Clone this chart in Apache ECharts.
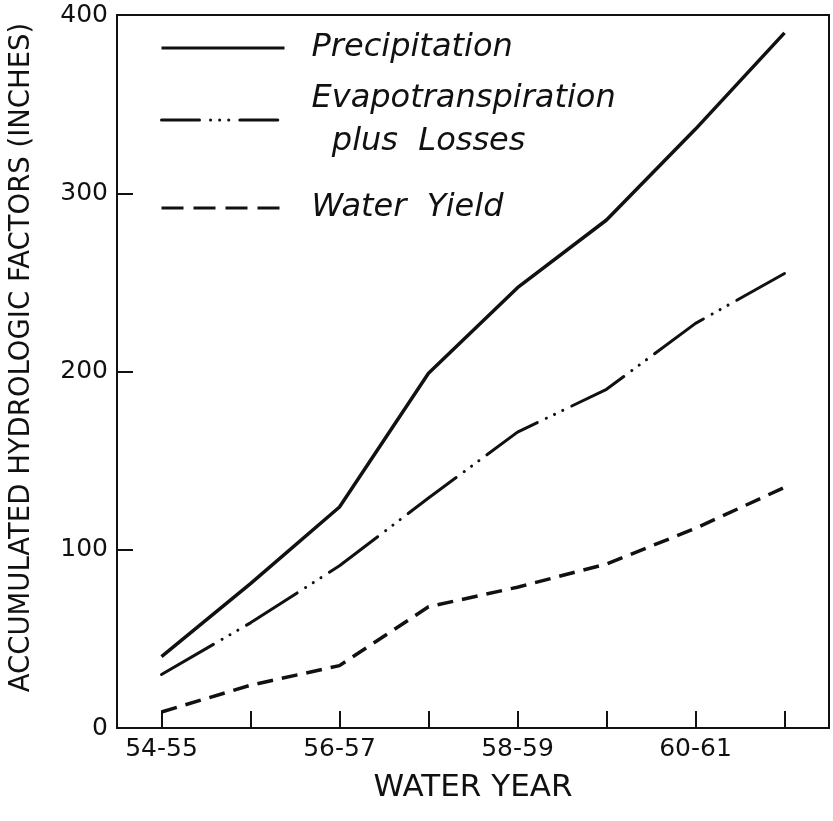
<!DOCTYPE html>
<html>
<head>
<meta charset="utf-8">
<script src="https://cdn.jsdelivr.net/npm/echarts@6/dist/echarts.min.js"></script>
<style>
  html, body { margin: 0; padding: 0; background: #fff; }
  #main { width: 833px; height: 821px; }
</style>
</head>
<body>
<div id="main"></div>
<script>
// water years on the x axis
var years = ['54-55', '55-56', '56-57', '57-58', '58-59', '59-60', '60-61', '61-62']
// accumulated values, inches
var precipitation = [40, 81, 124, 199, 247, 285, 336, 390]
var evapoLosses = [30, 59, 91, 129, 166, 190, 227, 255]
var waterYield = [9, 24, 35, 68, 79, 92, 112, 135]

var ink = '#111'
var font = 'DejaVu Sans'

var myChart = echarts.init(document.getElementById('main'))

function legendAt (name, top, lineType, lineHeight, formatter) {
  return {
    data: [name],
    left: 160,
    top: top,
    padding: 0,
    orient: 'vertical',
    selectedMode: false,
    itemWidth: 123,
    itemHeight: 14,
    itemGap: 30,
    // hide the symbol dot, keep only the line sample
    itemStyle: { color: 'rgba(0,0,0,0)', borderColor: 'rgba(0,0,0,0)', borderWidth: 0 },
    lineStyle: { type: lineType, width: 3, color: ink },
    formatter: formatter,
    textStyle: {
      fontFamily: font,
      fontStyle: 'italic',
      fontSize: 32,
      lineHeight: lineHeight,
      color: ink,
      padding: [0, 0, 0, 22]
    }
  }
}

var option = {
  backgroundColor: '#fff',
  animation: false,
  grid: {
    left: 117,
    right: 4,
    top: 15,
    bottom: 93,
    outerBoundsMode: 'none',
    show: true,
    borderColor: ink,
    borderWidth: 2
  },
  legend: [
    legendAt('Precipitation', 30, 'solid', 36),
    legendAt('Evapotranspiration plus Losses', 77, [38, 11, 0.1, 9, 0.1, 9, 0.1, 11], 43,
      function () { return 'Evapotranspiration\n  plus  Losses' }),
    legendAt('Water Yield', 190, [22, 10], 36,
      function () { return 'Water  Yield' })
  ],
  xAxis: {
    type: 'category',
    data: years,
    boundaryGap: true,
    name: 'WATER YEAR',
    nameLocation: 'middle',
    nameGap: 44,
    nameTextStyle: { fontFamily: font, fontSize: 31, color: ink },
    axisLine: { show: true, lineStyle: { color: ink, width: 2 } },
    axisTick: { show: true, inside: true, length: 17, interval: 0, alignWithLabel: true, lineStyle: { color: ink, width: 2 } },
    axisLabel: { interval: 1, margin: 9, fontFamily: font, fontSize: 25, color: ink },
    splitLine: { show: false }
  },
  yAxis: {
    type: 'value',
    min: 0,
    max: 400,
    interval: 100,
    name: 'ACCUMULATED HYDROLOGIC FACTORS (INCHES)',
    nameLocation: 'middle',
    nameGap: 81,
    nameTextStyle: { fontFamily: font, fontSize: 27.5, color: ink, padding: [0, 0, 0, 28] },
    axisLine: { show: true, lineStyle: { color: ink, width: 2 } },
    axisTick: { show: true, inside: true, length: 16, lineStyle: { color: ink, width: 2 } },
    axisLabel: { margin: 9, fontFamily: font, fontSize: 25, color: ink },
    splitLine: { show: false }
  },
  series: [
    {
      name: 'Precipitation',
      type: 'line',
      data: precipitation,
      symbol: 'none',
      lineStyle: { color: ink, width: 3.5, type: 'solid' }
    },
    {
      name: 'Evapotranspiration plus Losses',
      type: 'line',
      data: evapoLosses,
      symbol: 'none',
      lineStyle: { color: ink, width: 3, type: [60, 10, 0.1, 9, 0.1, 9, 0.1, 10], cap: 'round' }
    },
    {
      name: 'Water Yield',
      type: 'line',
      data: waterYield,
      symbol: 'none',
      lineStyle: { color: ink, width: 3.5, type: [16, 9] }
    }
  ]
}

myChart.setOption(option, true)
</script>
</body>
</html>
